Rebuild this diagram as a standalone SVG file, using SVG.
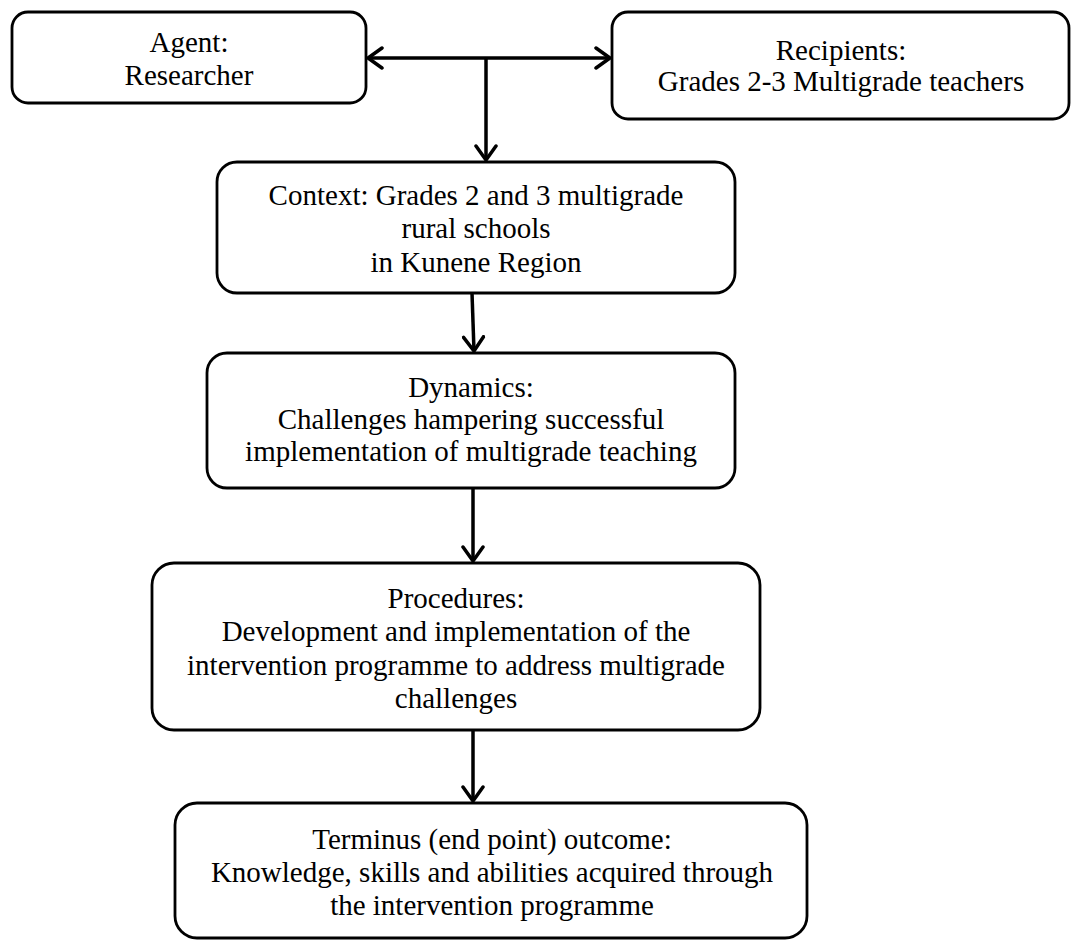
<svg xmlns="http://www.w3.org/2000/svg" width="1076" height="940" viewBox="0 0 1076 940">
<style>
.box{fill:#fff;stroke:#000;stroke-width:2.8}
.t{font-family:"Liberation Serif","Times New Roman",serif;font-size:29px;fill:#000;text-anchor:middle}
.c{stroke:#000;stroke-width:3.5;fill:none}
</style>
<defs>
<marker id="ah" markerUnits="userSpaceOnUse" viewBox="0 0 18 24" refX="16" refY="12" markerWidth="18" markerHeight="24" orient="auto-start-reverse">
<path d="M2,2 L16,12 L2,22" fill="none" stroke="#000" stroke-width="3.5" stroke-linecap="round" stroke-linejoin="miter"/>
</marker>
</defs>
<rect width="1076" height="940" fill="#fff"/>
<g id="connectors">
<line class="c" x1="368" y1="58" x2="610" y2="58" marker-start="url(#ah)" marker-end="url(#ah)"/>
<line class="c" x1="486" y1="58" x2="486" y2="160" marker-end="url(#ah)"/>
<line class="c" x1="472" y1="293" x2="474" y2="351" marker-end="url(#ah)"/>
<line class="c" x1="473" y1="488" x2="473" y2="561" marker-end="url(#ah)"/>
<line class="c" x1="473" y1="730" x2="473" y2="801" marker-end="url(#ah)"/>
</g>
<g id="agent">
<rect class="box" x="12" y="12" width="354" height="91" rx="16"/>
<text class="t" x="189" y="52">Agent:</text>
<text class="t" x="189" y="85">Researcher</text>
</g>
<g id="recipients">
<rect class="box" x="612" y="12" width="457" height="107" rx="16"/>
<text class="t" x="841" y="60">Recipients:</text>
<text class="t" x="841" y="91">Grades 2-3 Multigrade teachers</text>
</g>
<g id="context">
<rect class="box" x="217" y="162" width="518" height="131" rx="20"/>
<text class="t" x="476" y="205">Context: Grades 2 and 3 multigrade</text>
<text class="t" x="476" y="238">rural schools</text>
<text class="t" x="476" y="272">in Kunene Region</text>
</g>
<g id="dynamics">
<rect class="box" x="207" y="353" width="528" height="135" rx="20"/>
<text class="t" x="471" y="397">Dynamics:</text>
<text class="t" x="471" y="429">Challenges hampering successful</text>
<text class="t" x="471" y="461">implementation of multigrade teaching</text>
</g>
<g id="procedures">
<rect class="box" x="152" y="563" width="608" height="167" rx="22"/>
<text class="t" x="456" y="608">Procedures:</text>
<text class="t" x="456" y="641">Development and implementation of the</text>
<text class="t" x="456" y="675">intervention programme to address multigrade</text>
<text class="t" x="456" y="708">challenges</text>
</g>
<g id="terminus">
<rect class="box" x="175" y="803" width="632" height="135" rx="22"/>
<text class="t" x="492" y="849">Terminus (end point) outcome:</text>
<text class="t" x="492" y="882">Knowledge, skills and abilities acquired through</text>
<text class="t" x="492" y="915">the intervention programme</text>
</g>
</svg>
